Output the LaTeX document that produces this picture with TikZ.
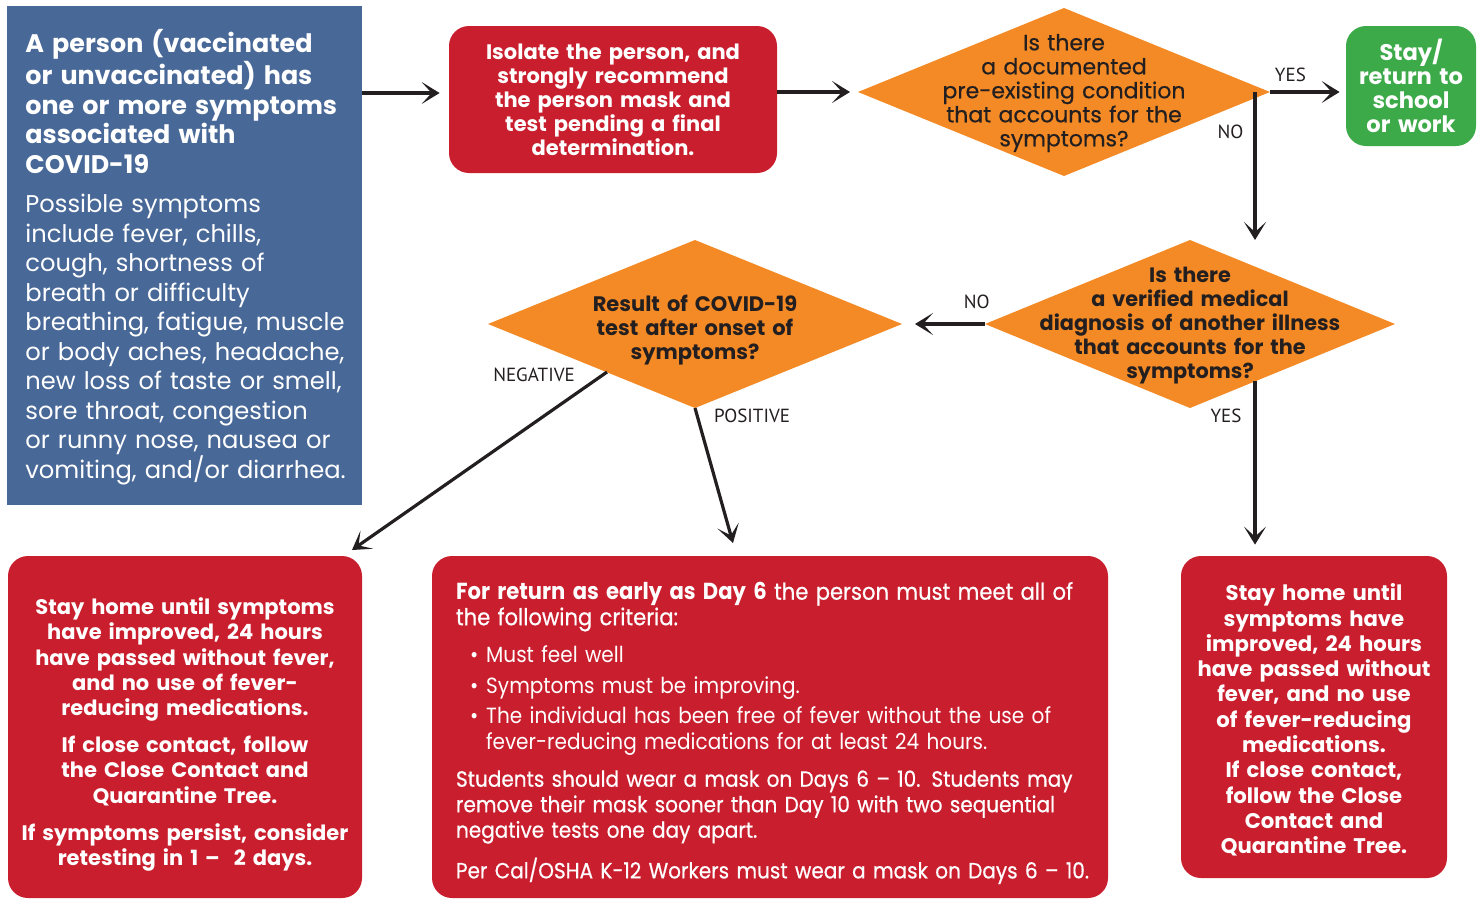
\documentclass[tikz,border=0pt]{standalone}
\usepackage{fontspec}
\setmainfont{Poppins}
\newfontfamily\labelfont{PT Sans}
\newfontfamily\mediumfont{Poppins}[FakeBold=0.5]
\newfontfamily\narrowfont{Poppins}[FakeStretch=0.91]
\newfontfamily\narrowmedium{Poppins}[FakeStretch=0.91,FakeBold=0.6]
\usetikzlibrary{shapes.geometric,arrows.meta}

\definecolor{flowblue}{RGB}{72,104,152}
\definecolor{flowred}{RGB}{201,30,45}
\definecolor{floworange}{RGB}{243,138,37}
\definecolor{flowgreen}{RGB}{61,170,73}
\definecolor{flowtext}{RGB}{35,31,32}

\tikzset{
  startbox/.style={fill=flowblue, minimum width=177.5pt, minimum height=249.5pt, inner sep=0pt},
  starttext/.style={text=white, text width=175pt, align=left, inner sep=0pt, anchor=north west,
    font=\fontsize{12.1}{14.75}\selectfont},
  actbox/.style={fill=flowred, text=white, rounded corners=10pt, inner sep=0pt, align=center,
    font=\bfseries\fontsize{10.5}{12}\selectfont},
  boxtext/.style={text=white, inner sep=0pt, align=center, font=\bfseries\fontsize{10.5}{12.6}\selectfont},
  gobox/.style={fill=flowgreen, text=white, rounded corners=10pt, inner sep=0pt, align=center,
    font=\bfseries\fontsize{11.3}{12}\selectfont},
  decision/.style={diamond, fill=floworange, inner sep=0pt, outer sep=0pt,
    minimum width=206pt, minimum height=84pt},
  decisiontext/.style={text=flowtext, align=center, inner sep=0pt, font=\bfseries\fontsize{10.4}{12}\selectfont},
  flow/.style={draw=flowtext, line width=1.6pt, -{Stealth[length=9pt,width=11pt,inset=5pt]}},
  answer/.style={text=flowtext, inner sep=0pt, font=\labelfont\fontsize{9.5}{11}\selectfont},
}

\begin{document}
\begin{tikzpicture}[x=0.5pt,y=-0.5pt]
      % \draw[help lines] (0,0) grid[step=100] (1482,900);
      \useasboundingbox (0,0) rectangle (1482,900);

      % top row
      \draw (184.5,255.5) node[startbox] (start) {};
      \draw (25,29) node[starttext] (starttext) {{\bfseries\fontsize{12.7}{14.75}\selectfont A person (vaccinated\\ or unvaccinated) has\\ one or more symptoms\\ associated with\\ COVID-19}\\[5pt]
        Possible symptoms\\ include fever, chills,\\ cough, shortness of\\ breath or difficulty\\ breathing, fatigue, muscle\\ or body aches, headache,\\ new loss of taste or smell,\\ sore throat, congestion\\ or runny nose, nausea or\\ vomiting, and/or diarrhea.};
      \draw (613,99.5) node[actbox, minimum width=164pt, minimum height=73.5pt, text width=155pt] (isolate) {Isolate the person, and\\ strongly recommend\\ the person mask and\\ test pending a final\\ determination.};
      \draw (1064,92) node[decision] (preexist) {};
      \draw (1064,93) node[decisiontext, text width=170pt, font=\mediumfont\fontsize{11}{12}\selectfont] (preexisttext) {Is there\\ a documented\\ pre-existing condition\\ that accounts for the\\ symptoms?};
      \draw (1411,86) node[gobox, minimum width=65pt, minimum height=60pt, text width=62pt] (goback) {Stay/\\ return to\\ school\\ or work};

      % middle row
      \draw (1190,324) node[decision, minimum width=205pt] (otherill) {};
      \draw (1190,326) node[decisiontext, text width=185pt] (otherilltext) {Is there\\ a verified medical\\ diagnosis of another illness\\ that accounts for the\\ symptoms?};
      \draw (695,324) node[decision, minimum width=207pt] (result) {};
      \draw (695,330.5) node[decisiontext, text width=170pt, font=\bfseries\fontsize{10.5}{12}\selectfont] (resulttext) {Result of COVID-19\\ test after onset of\\ symptoms?};

      % bottom row
      \draw (185,727) node[actbox, minimum width=177pt, minimum height=171pt] (negative) {};
      \draw (185,734.5) node[boxtext, text width=174pt] (negativetext) {Stay home until symptoms\\ have improved, 24 hours\\ have passed without fever,\\ and no use of fever-\\ reducing medications.\\[6pt]
        If close contact, follow\\ the Close Contact and\\ Quarantine Tree.\\[6pt]
        If symptoms persist, consider\\ retesting in 1 –~ 2 days.};
      \draw (770,727) node[actbox, minimum width=338pt, minimum height=171pt] (positive) {};
      \draw (781,733) node[boxtext, text width=325pt, align=left, font=\narrowfont\fontsize{11}{12.75}\selectfont] (positivetext) {{\fontsize{11.6}{12.75}\selectfont{\bfseries For return as early as Day 6} {\narrowmedium the person must meet all of\\ the following criteria:}}\\[6pt]
        \hspace*{7pt}\textbullet\hspace{4pt}Must feel well\\[2.5pt]
        \hspace*{7pt}\textbullet\hspace{4pt}Symptoms must be improving.\\[2.5pt]
        \hspace*{7pt}\textbullet\hspace{4pt}The individual has been free of fever without the use of\\
        \hspace*{15pt}fever-reducing medications for at least 24 hours.\\[6pt]
        {\narrowmedium Students should wear a mask on Days 6 – 10. Students may\\ remove their mask sooner than Day 10 with two sequential\\ negative tests one day apart.}\\[6pt]
        {\narrowmedium Per Cal/OSHA K-12 Workers must wear a mask on Days 6 – 10.}};
      \draw (1314,717) node[actbox, minimum width=133pt, minimum height=161pt] (illness) {};
      \draw (1314,720) node[boxtext, text width=128pt, font=\bfseries\fontsize{10.6}{12.65}\selectfont] (illnesstext) {Stay home until\\ symptoms have\\ improved, 24 hours\\ have passed without\\ fever, and no use\\ of fever-reducing\\ medications.\\ If close contact,\\ follow the Close\\ Contact and\\ Quarantine Tree.};

      % free ends of the connectors
      \coordinate (split) at (1255,92);
      \coordinate (yesdrop) at (1255,381);
      \coordinate (negstart) at (607,372);
      \coordinate (negend) at (352,550);
      \coordinate (posend) at (733,543);

      \draw [flow, shorten >=4.5pt] ([yshift=3.25pt]isolate.west -| start.east) -- ([yshift=3.25pt]isolate.west);
      \draw [flow, shorten >=4pt] (isolate.east |- preexist.west) -- (preexist.west);
      \draw [flow, shorten >=3pt] (preexist.east) -- (preexist.east -| goback.west) node [answer, pos=0.27, above=4.5pt] (yesgo) {YES};
      \draw [flow] (split) -- (split |- otherill.north) node [answer, pos=0.27, left=5pt] (nocheck) {NO};
      \draw [flow, shorten >=6.5pt] (otherill.west) -- (result.east) node [answer, pos=0.1, above=7pt] (notest) {NO};
      \draw [flow, shorten >=5.5pt] (yesdrop) -- (yesdrop |- illness.north) node [answer, pos=0.2, left=6pt] (yeshome) {YES};
      \draw [flow] (negstart) -- (negend);
      \draw [flow] (result.south) -- (posend);
      \draw (534,375) node[answer] (neglabel) {NEGATIVE};
      \draw (752,416) node[answer] (poslabel) {POSITIVE};
    \end{tikzpicture}
\end{document}
